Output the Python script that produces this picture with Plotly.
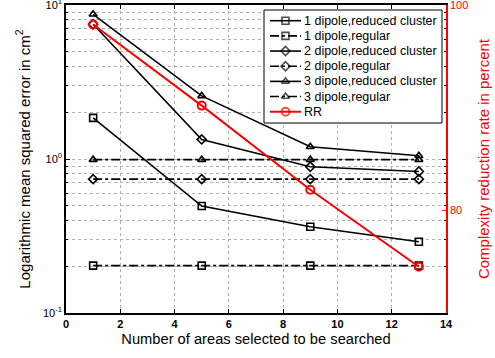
import plotly.graph_objects as go

x_areas = [1, 5, 9, 13]
d1_reduced = [1.85, 0.495, 0.363, 0.29]
d1_regular = [0.203, 0.203, 0.203, 0.203]
d2_reduced = [7.5, 1.34, 0.89, 0.83]
d2_regular = [0.74, 0.74, 0.74, 0.74]
d3_reduced = [8.7, 2.57, 1.20, 1.05]
d3_regular = [0.99, 0.99, 0.99, 0.99]
rr = [98.1, 90.2, 82.0, 74.5]

names = ["1 dipole,reduced cluster", "1 dipole,regular",
         "2 dipole,reduced cluster", "2 dipole,regular",
         "3 dipole,reduced cluster", "3 dipole,regular", "RR"]
series = [d1_reduced, d1_regular, d2_reduced, d2_regular, d3_reduced, d3_regular]
symbols = ["square-open", "square-open", "diamond-open", "diamond-open",
           "triangle-up-open", "triangle-up-open", "circle-open"]
dashes = ["solid", "dashdot", "solid", "dashdot", "solid", "dashdot", "solid"]
colors = ["black"] * 6 + ["red"]
widths = [1.6] * 6 + [2]
msizes = [7] * 6 + [8]
minor_vals = [m * 10 ** e for e in (-1, 0) for m in range(2, 10)]

FONT = "Liberation Sans, Arial, sans-serif"
# plot area in pixels
PL, PR, PT, PB = 66, 446, 5, 313
W, H = 495, 358
XMAX = 14.0

def px2x(px):
    return (px - PL) / (PR - PL) * XMAX

fig = go.Figure()
for i, s in enumerate(series):
    fig.add_trace(go.Scatter(
        x=x_areas, y=s, name=names[i], mode="lines+markers", showlegend=False,
        line=dict(color=colors[i], width=widths[i], dash=dashes[i]),
        marker=dict(symbol=symbols[i], size=msizes[i], color=colors[i],
                    line=dict(width=widths[i], color=colors[i])),
    ))
fig.add_trace(go.Scatter(
    x=x_areas, y=rr, name="RR", mode="lines+markers", yaxis="y2", showlegend=False,
    line=dict(color="red", width=2),
    marker=dict(symbol="circle-open", size=8, color="red", line=dict(width=2, color="red")),
))

# custom legend (pixel layout, drawn on an overlay axis y3 measured in pixels from plot top)
LX0, LX1, LY0, LY1 = 264, 442, 10, 123
fig.add_trace(go.Scatter(
    x=[px2x(LX0), px2x(LX1), px2x(LX1), px2x(LX0), px2x(LX0)],
    y=[LY0 - PT, LY0 - PT, LY1 - PT, LY1 - PT, LY0 - PT],
    yaxis="y3", mode="lines", fill="toself", fillcolor="white",
    line=dict(color="black", width=1), showlegend=False, hoverinfo="skip"))
annotations = []
for i, n in enumerate(names):
    cy = 20.7 + 15.17 * i - PT
    fig.add_trace(go.Scatter(
        x=[px2x(270), px2x(285.5), px2x(301)], y=[cy, cy, cy], yaxis="y3",
        mode="lines+markers", showlegend=False, hoverinfo="skip",
        line=dict(color=colors[i], width=widths[i], dash=dashes[i]),
        marker=dict(symbol=symbols[i], size=[0, msizes[i], 0], color=colors[i],
                    line=dict(width=widths[i], color=colors[i]))))
    annotations.append(dict(x=px2x(302), y=cy, xref="x", yref="y3", text=n,
                            showarrow=False, xanchor="left", yanchor="middle",
                            font=dict(size=12.5, color="black")))

fig.update_layout(
    width=W, height=H,
    margin=dict(l=PL, r=W - PR, t=PT, b=H - PB),
    plot_bgcolor="white", paper_bgcolor="white",
    font=dict(family=FONT, size=12, color="black"),
    showlegend=False,
    annotations=annotations,
    xaxis=dict(range=[0, XMAX], dtick=2, showline=True, linecolor="black", linewidth=1.5,
               mirror="ticks", ticks="inside", ticklen=4, tickcolor="black", automargin=False,
               showgrid=True, gridcolor="#b0b0b0", griddash="dot", gridwidth=1,
               zeroline=False, tickfont=dict(size=11, weight="bold"), ticklabeloverflow="allow",
               title=dict(text="Number of areas selected to be searched", font=dict(size=14.7), standoff=5)),
    yaxis=dict(type="log", range=[-1, 1], tickvals=[0.1, 1, 10],
               ticktext=["10<sup>-1</sup>", "10<sup>0</sup>", "10<sup>1</sup>"],
               showline=True, linecolor="black", linewidth=1.5, mirror="ticks",
               ticks="inside", ticklen=4, tickcolor="black", automargin=False,
               showgrid=True, gridcolor="#b0b0b0", griddash="dot", gridwidth=1,
               minor=dict(tickvals=minor_vals, showgrid=True, gridcolor="#b0b0b0", griddash="dot",
                          ticks="inside", ticklen=2, tickcolor="black"),
               zeroline=False, tickfont=dict(size=11), ticklabeloverflow="allow",
               title=dict(text="Logarithmic mean squared error in cm<sup>2</sup>", font=dict(size=15), standoff=9)),
    yaxis2=dict(overlaying="y", side="right", range=[70, 100], tickvals=[80, 100],
                showline=True, linecolor="red", linewidth=1.5, ticks="inside", ticklen=4,
                tickcolor="red", showgrid=False, zeroline=False, automargin=False,
                tickfont=dict(size=11, color="red"), ticklabeloverflow="allow",
                title=dict(text="Complexity reduction rate in percent", font=dict(size=15, color="red"), standoff=11)),
    yaxis3=dict(overlaying="y", range=[PB - PT, 0], visible=False, showgrid=False,
                zeroline=False, fixedrange=True),
)

fig.write_html("out.html", config={"displayModeBar": False},
               post_script="document.body.style.margin='0';document.body.style.padding='0';window.dispatchEvent(new Event('resize'));")
